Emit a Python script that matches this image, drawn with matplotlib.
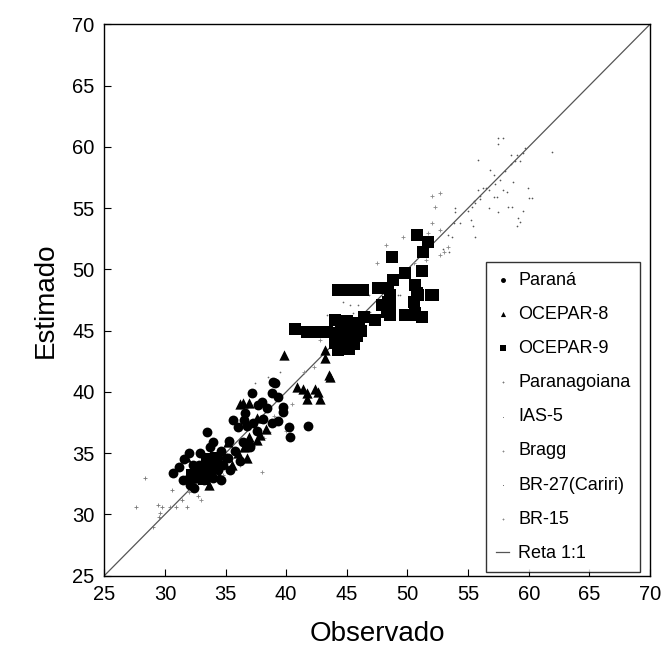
import matplotlib
matplotlib.use('Agg')
import matplotlib.pyplot as plt
import numpy as np

plt.rcParams['font.family'] = ['Liberation Sans', 'DejaVu Sans']

#______________________________DATA______________________________
# Parana (circles)
parana_x = [30.7, 31.2, 31.6, 32.0, 32.3, 32.6, 32.9, 33.2, 33.5, 33.7, 33.8, 34.0, 34.3, 34.6, 34.6,
            35.0, 35.3, 35.6, 35.8, 36.0, 36.2, 36.5, 36.8, 37.2, 37.3, 37.6, 37.7, 38.1, 38.4, 38.8,
            38.8, 38.9, 39.1, 39.3, 39.3, 39.7, 39.7, 40.2, 40.3, 41.8, 32.1, 33.0, 34.4, 35.4, 36.4, 37.0,
            31.5, 32.0, 32.8, 33.3, 34.0, 34.8, 35.2, 33.5, 32.4, 36.6, 38.0]
parana_y = [33.4, 33.9, 34.5, 33.0, 34.0, 33.3, 35.0, 32.8, 36.7, 35.5, 34.0, 35.9, 34.2, 32.8, 35.2,
            34.6, 36.0, 37.7, 35.2, 37.1, 34.4, 37.7, 37.2, 39.9, 37.5, 36.8, 38.9, 37.8, 38.7, 37.5,
            39.9, 40.8, 40.7, 39.6, 37.6, 38.8, 38.4, 37.1, 36.3, 37.2, 32.4, 33.8, 33.6, 33.6, 35.9, 35.5,
            32.8, 35.0, 34.0, 34.3, 33.0, 34.0, 34.6, 33.0, 32.2, 38.3, 39.2]

# OCEPAR-8 (triangles)
oc8_x = [31.7, 32.4, 33.6, 34.5, 35.2, 35.5, 36.0, 36.2, 36.4, 36.5, 36.8, 36.9, 36.9, 37.0, 37.6,
         37.6, 37.8, 38.3, 39.8, 40.9, 41.4, 41.7, 41.7, 42.4, 42.6, 42.8, 43.2, 43.2, 43.5, 43.6]
oc8_y = [34.7, 33.0, 32.4, 33.1, 35.9, 34.0, 35.0, 39.0, 39.1, 35.5, 34.6, 36.3, 39.1, 36.0, 36.1,
         37.9, 36.5, 37.0, 43.0, 40.4, 40.2, 39.9, 39.4, 40.2, 40.0, 39.4, 43.4, 42.8, 41.4, 41.2]

# OCEPAR-9 (squares)
oc9_x = [40.7, 42.1, 41.7, 42.5, 43.4, 44.0, 44.5, 45.0, 45.5, 46.0, 44.2, 44.8, 45.3, 45.8, 46.2,
         44.0, 44.6, 45.2, 44.3, 45.6, 46.4, 44.9, 45.4, 44.3, 45.0, 45.7, 46.3, 47.6, 48.4, 48.6,
         47.9, 48.6, 48.6, 47.3, 48.4, 48.3, 50.8, 51.7, 51.3, 48.7, 49.8, 48.8, 51.2, 50.6, 50.8,
         51.9, 52.1, 49.8, 50.2, 51.2, 50.9, 50.5, 50.6, 32.7, 33.7, 33.2, 32.2, 33.5, 34.2]
oc9_y = [45.1, 44.9, 44.9, 44.9, 44.9, 45.9, 45.5, 45.8, 45.2, 45.6, 44.8, 44.5, 44.2, 44.6, 45.0,
         44.0, 43.7, 43.5, 43.4, 43.9, 46.1, 45.0, 44.9, 48.3, 48.3, 48.3, 48.3, 48.5, 48.5, 47.9,
         47.1, 46.9, 46.3, 45.9, 47.3, 46.5, 52.8, 52.2, 51.4, 51.0, 49.7, 49.1, 49.9, 48.7, 48.1,
         47.9, 47.9, 46.3, 46.3, 46.1, 47.9, 47.3, 46.4, 33.7, 33.7, 32.9, 33.2, 34.5, 34.6]

# Paranagoiana
pgo_x = [27.6, 28.4, 29.0, 29.4, 29.5, 29.6, 29.8, 30.4, 30.9, 31.4, 31.8, 32.7, 30.6]
pgo_y = [30.6, 33.0, 29.0, 30.8, 29.8, 30.1, 30.6, 30.6, 30.6, 31.2, 30.6, 31.5, 32.0]

# IAS-5
ias_x = [37.9, 38.7, 38.5, 39.5, 37.4, 43.4, 44.7, 45.3, 45.9, 46.7, 46.8, 49.2, 49.4, 45.5, 46.4, 46.9]
ias_y = [39.4, 36.7, 41.2, 41.6, 40.7, 46.3, 47.3, 47.1, 47.1, 48.3, 47.9, 47.9, 47.9, 46.4, 46.1, 46.5]

# Bragg
bragg_x = [32.0, 33.0, 34.8, 36.2, 36.8, 38.2, 39.0, 40.5, 41.5, 42.3, 38.0, 40.0, 42.8]
bragg_y = [31.8, 31.2, 33.2, 34.0, 35.8, 36.2, 38.0, 39.0, 41.6, 42.0, 33.5, 36.8, 44.2]

# BR-27(Cariri)
br27_x = [57.5, 57.9, 57.5, 55.8, 58.5, 59.0, 59.7, 58.9, 59.3, 56.8, 57.1, 57.2, 57.6, 55.8, 56.2,
          56.7, 57.9, 58.2, 58.7, 59.9, 60.0, 60.3, 57.1, 57.4, 56.0, 55.6, 55.0, 55.3, 53.9, 53.9,
          56.7, 57.5, 58.3, 58.6, 59.5, 59.1, 59.3, 59.0, 53.8, 54.3, 55.2, 55.4, 55.6, 52.7, 53.3,
          53.7, 52.9, 53.4, 61.9, 55.5, 56.0, 56.5, 58.0, 58.5, 59.5]
br27_y = [60.7, 60.7, 60.2, 58.9, 59.3, 59.3, 59.9, 58.8, 58.8, 58.1, 57.7, 57.0, 57.3, 56.5, 56.6,
          56.5, 56.5, 56.3, 57.1, 56.6, 55.8, 55.8, 55.9, 55.9, 55.7, 55.4, 54.8, 55.1, 55.0, 54.7,
          55.0, 54.7, 55.1, 55.1, 54.8, 54.2, 53.9, 53.5, 53.8, 53.8, 54.0, 53.5, 52.6, 53.2, 52.8,
          52.6, 51.7, 51.4, 59.6, 55.6, 56.0, 56.6, 58.0, 58.6, 59.5]

# BR-15
br15_x = [52.0, 52.7, 52.3, 52.0, 52.7, 49.6, 53.3, 53.0, 52.7, 51.7, 47.5, 48.2, 50.5, 51.5]
br15_y = [56.0, 56.2, 55.1, 53.8, 53.2, 52.6, 51.8, 51.4, 51.2, 53.0, 50.5, 52.0, 50.5, 50.8]

lims = [25, 70]

#______________________________PLOT______________________________
fig = plt.figure(figsize=(6.64, 6.55), dpi=100)
ax = fig.add_axes([0.157, 0.121, 0.822, 0.842])

ax.scatter(parana_x, parana_y, marker='o', s=50, color='black', linewidths=0, label='Paraná', zorder=3)
ax.scatter(oc8_x, oc8_y, marker='^', s=55, color='black', linewidths=0, label='OCEPAR-8', zorder=3)
ax.scatter(oc9_x, oc9_y, marker='s', s=68, color='black', linewidths=0, label='OCEPAR-9', zorder=3)
ax.scatter(pgo_x, pgo_y, marker='+', s=12, color='#777777', linewidths=0.6, label='Paranagoiana', zorder=2)
ax.scatter(ias_x, ias_y, marker='.', s=6, color='#666666', linewidths=0, label='IAS-5', zorder=2)
ax.scatter(bragg_x, bragg_y, marker='+', s=12, color='#888888', linewidths=0.6, label='Bragg', zorder=2)
ax.scatter(br27_x, br27_y, marker='.', s=6, color='#555555', linewidths=0, label='BR-27(Cariri)', zorder=2)
ax.scatter(br15_x, br15_y, marker='+', s=10, color='#888888', linewidths=0.6, label='BR-15', zorder=2)
ax.plot(lims, lims, color='#555555', lw=0.9, label='Reta 1:1', zorder=1)

ax.set_xlim(lims)
ax.set_ylim(lims)
ax.set_xticks(np.arange(25, 71, 5))
ax.set_yticks(np.arange(25, 71, 5))
ax.tick_params(direction='in', length=5, labelsize=14.5, width=0.8, pad=7)
ax.set_xlabel('Observado', fontsize=20, labelpad=12)
ax.set_ylabel('Estimado', fontsize=20, labelpad=10)
for sp in ax.spines.values():
    sp.set_linewidth(1.0)

leg = ax.legend(loc='lower right', bbox_to_anchor=(0.982, 0.007), borderaxespad=0,
                fontsize=13, markerscale=0.5, handlelength=0.7, handletextpad=0.5,
                labelspacing=0.95, frameon=True, fancybox=False, edgecolor='black',
                borderpad=0.55, scatterpoints=1)
leg.get_frame().set_linewidth(1.0)

fig.savefig('out.png', dpi=100)
